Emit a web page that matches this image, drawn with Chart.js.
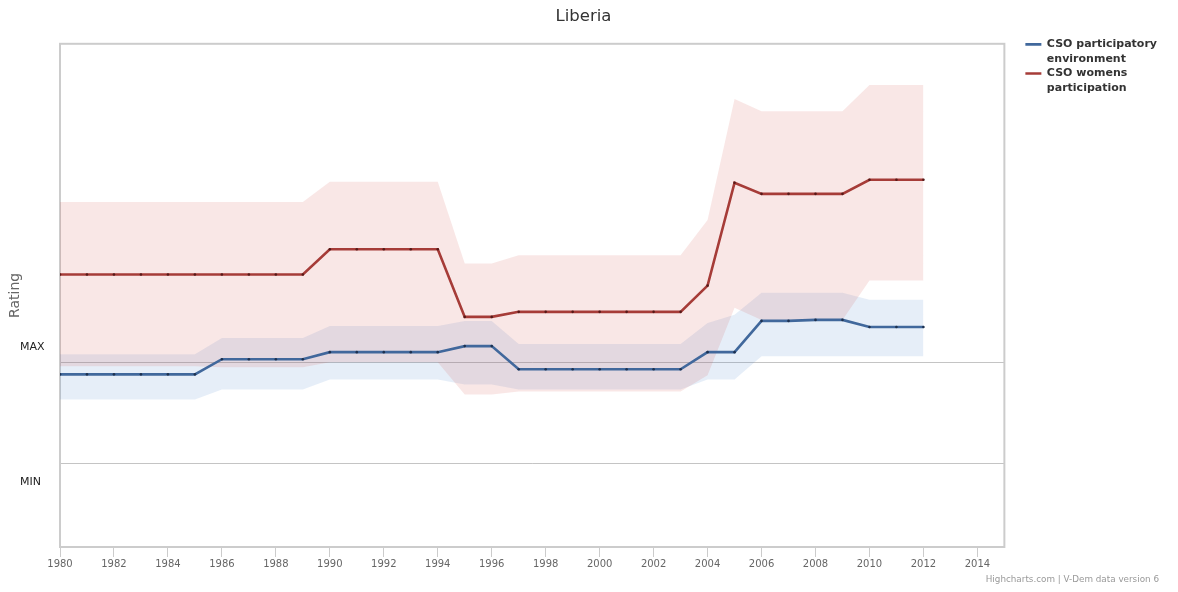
<!DOCTYPE html>
<html>
<head>
<meta charset="utf-8">
<title>Liberia</title>
<script src="https://cdn.jsdelivr.net/npm/chart.js@4.4.1/dist/chart.umd.min.js"></script>
<style>
  html, body { margin: 0; padding: 0; background: #fff; }
  #wrap { width: 1178px; height: 592px; position: relative; }
</style>
</head>
<body>
<div id="wrap"><canvas id="ratingChart"></canvas></div>
<script>
const years = [1980, 1981, 1982, 1983, 1984, 1985, 1986, 1987, 1988, 1989,
  1990, 1991, 1992, 1993, 1994, 1995, 1996, 1997, 1998, 1999,
  2000, 2001, 2002, 2003, 2004, 2005, 2006, 2007, 2008, 2009,
  2010, 2011, 2012];

// CSO participatory environment: estimate with credible interval
const participatoryEnv = [0.88, 0.88, 0.88, 0.88, 0.88, 0.88, 1.03, 1.03, 1.03, 1.03,
  1.10, 1.10, 1.10, 1.10, 1.10, 1.16, 1.16, 0.93, 0.93, 0.93,
  0.93, 0.93, 0.93, 0.93, 1.10, 1.10, 1.41, 1.41, 1.42, 1.42,
  1.35, 1.35, 1.35];
const participatoryEnvHigh = [1.08, 1.08, 1.08, 1.08, 1.08, 1.08, 1.24, 1.24, 1.24, 1.24,
  1.36, 1.36, 1.36, 1.36, 1.36, 1.41, 1.41, 1.18, 1.18, 1.18,
  1.18, 1.18, 1.18, 1.18, 1.39, 1.47, 1.69, 1.69, 1.69, 1.69,
  1.62, 1.62, 1.62];
const participatoryEnvLow = [0.63, 0.63, 0.63, 0.63, 0.63, 0.63, 0.73, 0.73, 0.73, 0.73,
  0.83, 0.83, 0.83, 0.83, 0.83, 0.78, 0.78, 0.73, 0.73, 0.73,
  0.73, 0.73, 0.73, 0.73, 0.83, 0.83, 1.06, 1.06, 1.06, 1.06,
  1.06, 1.06, 1.06];

// CSO womens participation
const womensParticipation = [1.87, 1.87, 1.87, 1.87, 1.87, 1.87, 1.87, 1.87, 1.87, 1.87,
  2.12, 2.12, 2.12, 2.12, 2.12, 1.45, 1.45, 1.50, 1.50, 1.50,
  1.50, 1.50, 1.50, 1.50, 1.76, 2.78, 2.67, 2.67, 2.67, 2.67,
  2.81, 2.81, 2.81];
const womensParticipationHigh = [2.59, 2.59, 2.59, 2.59, 2.59, 2.59, 2.59, 2.59, 2.59, 2.59,
  2.79, 2.79, 2.79, 2.79, 2.79, 1.98, 1.98, 2.06, 2.06, 2.06,
  2.06, 2.06, 2.06, 2.06, 2.41, 3.61, 3.49, 3.49, 3.49, 3.49,
  3.75, 3.75, 3.75];
const womensParticipationLow = [0.96, 0.96, 0.96, 0.96, 0.96, 0.96, 0.95, 0.95, 0.95, 0.95,
  1.00, 1.00, 1.00, 1.00, 1.00, 0.68, 0.68, 0.71, 0.71, 0.71,
  0.71, 0.71, 0.71, 0.71, 0.87, 1.54, 1.42, 1.42, 1.42, 1.42,
  1.81, 1.81, 1.81];

// reference levels on the rating axis
const levelValues = [0, 1];
const levelNames = ['MIN', 'MAX'];

const seriesNames = [['CSO participatory', 'environment'], ['CSO womens', 'participation']];
const credits = 'Highcharts.com | V-Dem data version 6';

const toPoints = arr => arr.map((v, i) => ({ x: years[i], y: v }));

const BLUE = '#41689c';
const RED = '#a63c38';

function band(values, fillColor, fill, order) {
  return {
    data: toPoints(values),
    fill: fill,
    backgroundColor: fillColor,
    borderWidth: 0,
    pointRadius: 0,
    pointHoverRadius: 0,
    order: order,
    isBand: true
  };
}

// plot frame, level captions and credits
const decorations = {
  id: 'decorations',
  beforeDatasetsDraw(chart) {
    const { ctx, chartArea: a } = chart;
    ctx.save();
    ctx.strokeStyle = '#cccccc';
    ctx.lineWidth = 2;
    ctx.strokeRect(a.left, a.top, a.right - a.left, a.bottom - a.top);
    ctx.restore();
  },
  afterDraw(chart) {
    const { ctx } = chart;
    const y = chart.scales.y;
    const shift = [19, -15];
    ctx.save();
    ctx.font = '11px "DejaVu Sans"';
    ctx.fillStyle = '#222';
    ctx.textAlign = 'left';
    ctx.textBaseline = 'middle';
    levelValues.forEach((v, i) => {
      ctx.fillText(levelNames[i], 20, y.getPixelForValue(v) + shift[i]);
    });
    ctx.font = '8.8px "DejaVu Sans"';
    ctx.fillStyle = '#999';
    ctx.textAlign = 'right';
    ctx.fillText(credits, chart.width - 19, 580);
    ctx.restore();
  }
};

Chart.defaults.font.family = '"DejaVu Sans", sans-serif';

new Chart(document.getElementById('ratingChart'), {
  type: 'line',
  data: {
    datasets: [
      band(participatoryEnvHigh, 'rgba(60, 120, 200, 0.13)', '+1', 5),
      band(participatoryEnvLow, 'transparent', false, 5),
      band(womensParticipationHigh, 'rgba(205, 70, 60, 0.13)', '+1', 4),
      band(womensParticipationLow, 'transparent', false, 4),
      {
        label: seriesNames[0],
        data: toPoints(participatoryEnv),
        borderColor: BLUE,
        backgroundColor: BLUE,
        borderWidth: 2.6,
        pointRadius: 1.3,
        pointBackgroundColor: '#1d3150',
        pointBorderWidth: 0,
        tension: 0,
        fill: false,
        order: 2
      },
      {
        label: seriesNames[1],
        data: toPoints(womensParticipation),
        borderColor: RED,
        backgroundColor: RED,
        borderWidth: 2.6,
        pointRadius: 1.3,
        pointBackgroundColor: '#561a18',
        pointBorderWidth: 0,
        tension: 0,
        fill: false,
        order: 1
      }
    ]
  },
  options: {
    responsive: true,
    maintainAspectRatio: false,
    animation: false,
    layout: { padding: { left: 0, right: 11, top: 0, bottom: 21 } },
    scales: {
      x: {
        type: 'linear',
        min: 1980,
        max: 2015,
        grid: { drawOnChartArea: false, color: '#cccccc', tickLength: 10 },
        border: { display: false },
        ticks: {
          stepSize: 2,
          includeBounds: false,
          color: '#666',
          font: { size: 10 },
          padding: 1,
          maxRotation: 0,
          callback: v => String(v)
        }
      },
      y: {
        min: -0.832,
        max: 4.158,
        afterBuildTicks: s => { s.ticks = levelValues.map(v => ({ value: v })); },
        afterFit: s => { s.width = 60; },
        grid: { color: '#c4c4c4', drawTicks: false },
        border: { display: false },
        ticks: { display: false },
        title: {
          display: true,
          text: 'Rating',
          color: '#666',
          font: { size: 14 },
          padding: { top: 6.6, bottom: 0 }
        }
      },
      gap: {
        position: 'right',
        grid: { display: false, drawTicks: false },
        border: { display: false },
        ticks: { display: false },
        afterFit: s => { s.width = 20.5; }
      }
    },
    plugins: {
      title: {
        display: true,
        text: 'Liberia',
        color: '#333',
        font: { size: 16.5, weight: 'normal' },
        padding: { top: 7, bottom: 17 }
      },
      legend: {
        position: 'right',
        align: 'start',
        title: { display: true, text: '', font: { size: 12 }, padding: { top: 24, bottom: 0 } },
        labels: {
          usePointStyle: true,
          pointStyle: 'line',
          pointStyleWidth: 16,
          padding: 0.5,
          color: '#333',
          font: { size: 11, weight: 'bold', lineHeight: 1.3 },
          filter: (item, data) => !data.datasets[item.datasetIndex].isBand,
          sort: (a, b) => a.datasetIndex - b.datasetIndex,
          generateLabels: chart => {
            const items = Chart.defaults.plugins.legend.labels.generateLabels(chart);
            items.forEach(item => {
              const ds = chart.data.datasets[item.datasetIndex];
              item.strokeStyle = ds.borderColor;
              item.lineWidth = ds.borderWidth;
            });
            return items;
          }
        }
      },
      tooltip: { enabled: false }
    }
  },
  plugins: [decorations]
});
</script>
</body>
</html>
